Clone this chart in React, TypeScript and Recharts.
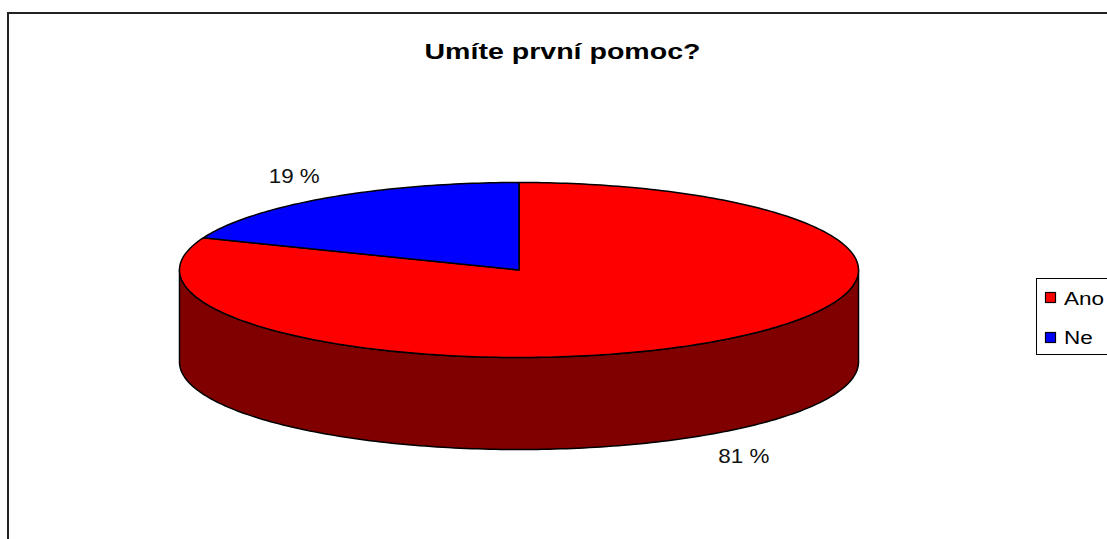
import React from 'react';
import { PieChart, Pie, Cell, Legend } from 'recharts';

const categories = ['Ano', 'Ne'];
const shares = [81, 19];
const colors = ['#FF0000', '#0000FF'];

const chartTitle = 'Umíte první pomoc?';

// flattening of the pie and height of its side wall
const SQUASH = 87.5 / 339.5;
const DEPTH = 92;
const FONT = '"Liberation Sans", Arial, sans-serif';

const data = categories.map((name, i) => ({ name, value: shares[i] }));

const darken = (hex: string) => {
  const n = parseInt(hex.slice(1), 16);
  const half = (v: number) => Math.round(v / 2);
  return `rgb(${half((n >> 16) & 255)},${half((n >> 8) & 255)},${half(n & 255)})`;
};

const ellPoint = (cx: number, cy: number, r: number, deg: number, dy = 0) => {
  const a = (deg * Math.PI) / 180;
  return [cx + r * Math.cos(a), cy - r * SQUASH * Math.sin(a) + dy];
};

const arcPoints = (cx: number, cy: number, r: number, from: number, to: number, dy = 0) => {
  const steps = Math.max(2, Math.ceil(Math.abs(to - from)));
  const pts: number[][] = [];
  for (let i = 0; i <= steps; i++) {
    pts.push(ellPoint(cx, cy, r, from + ((to - from) * i) / steps, dy));
  }
  return pts;
};

const toPath = (pts: number[][]) => pts.map((p, i) => `${i ? 'L' : 'M'}${p[0].toFixed(2)},${p[1].toFixed(2)}`).join(' ');

// one slice drawn as an elliptical top face with its front wall
const Slice3D = (props: any) => {
  const { cx, cy, outerRadius, startAngle, endAngle, fill } = props;
  const lo = Math.min(startAngle, endAngle);
  const hi = Math.max(startAngle, endAngle);
  const walls: string[] = [];
  for (let k = Math.floor(lo / 360) - 1; k <= Math.ceil(hi / 360); k++) {
    const a = Math.max(lo, 180 + 360 * k);
    const b = Math.min(hi, 360 + 360 * k);
    if (b > a) {
      const top = arcPoints(cx, cy, outerRadius, a, b);
      const bottom = arcPoints(cx, cy, outerRadius, b, a, DEPTH);
      walls.push(toPath([...top, ...bottom]) + ' Z');
    }
  }
  const face = `M${cx},${cy} ` + toPath(arcPoints(cx, cy, outerRadius, startAngle, endAngle)).replace(/^M/, 'L') + ' Z';
  return (
    <g>
      {walls.map((d, i) => (
        <path key={i} d={d} fill={darken(fill)} stroke="#000" strokeWidth={1.5} strokeLinejoin="round" />
      ))}
      <path d={face} fill={fill} stroke="#000" strokeWidth={1.5} strokeLinejoin="round" />
    </g>
  );
};

const renderLabel = (props: any) => {
  const { cx, cy, midAngle, outerRadius, percent } = props;
  const a = (midAngle * Math.PI) / 180;
  const x = cx + outerRadius * 1.178 * Math.cos(a);
  const sin = Math.sin(a);
  const y = cy - outerRadius * SQUASH * 1.3 * sin + (sin < 0 ? DEPTH : 0);
  return (
    <text
      transform={`translate(${x},${y}) scale(1.12,1)`}
      textAnchor="middle"
      dominantBaseline="central"
      fontFamily={FONT}
      fontSize={20}
      fill="#111"
    >
      {`${Math.round(percent * 100)} %`}
    </text>
  );
};

const LegendBox = (props: any) => {
  const { payload = [] } = props;
  return (
    <svg width={130} height={78} style={{ display: 'block', overflow: 'visible' }}>
      <rect x={0.5} y={0.5} width={120} height={76} fill="#fff" stroke="#000" strokeWidth={1} />
      {payload.map((entry: any, i: number) => (
        <g key={entry.value}>
          <rect x={9.5} y={14.5 + i * 40} width={10} height={10} fill={entry.color} stroke="#000" strokeWidth={1.2} />
          <text
            transform={`translate(28,${26.5 + i * 39}) scale(1.25,1)`}
            fontFamily={FONT}
            fontSize={18}
            fill="#000"
          >
            {entry.value}
          </text>
        </g>
      ))}
    </svg>
  );
};

export default function App() {
  return (
    <div style={{ position: 'absolute', left: 0, top: 0, width: 1107, height: 539, overflow: 'hidden', background: '#fff' }}>
      <svg width={1107} height={539} style={{ position: 'absolute', left: 0, top: 0 }}>
        <rect x={8} y={13} width={1200} height={600} fill="none" stroke="#222" strokeWidth={2} />
        <text
          transform="translate(562.5,58.5) scale(1.27,1)"
          textAnchor="middle"
          fontFamily={FONT}
          fontWeight="bold"
          fontSize={22.5}
          fill="#000"
        >
          {chartTitle}
        </text>
      </svg>
      <div style={{ position: 'absolute', left: 0, top: 0, width: 1240 }}>
        <PieChart width={1240} height={539} margin={{ top: 0, right: 0, bottom: 0, left: 0 }}>
          <Pie
            data={data}
            dataKey="value"
            nameKey="name"
            cx={519}
            cy={270}
            outerRadius={339.5}
            startAngle={90}
            endAngle={-270}
            stroke="#000"
            shape={Slice3D}
            label={renderLabel}
            labelLine={false}
            isAnimationActive={false}
          >
            {data.map((entry, i) => (
              <Cell key={entry.name} fill={colors[i]} />
            ))}
          </Pie>
          <Legend
            layout="vertical"
            align="right"
            verticalAlign="middle"
            content={LegendBox}
            wrapperStyle={{ position: 'absolute', left: 1036, top: 278, width: 130, height: 78 }}
          />
        </PieChart>
      </div>
    </div>
  );
}
